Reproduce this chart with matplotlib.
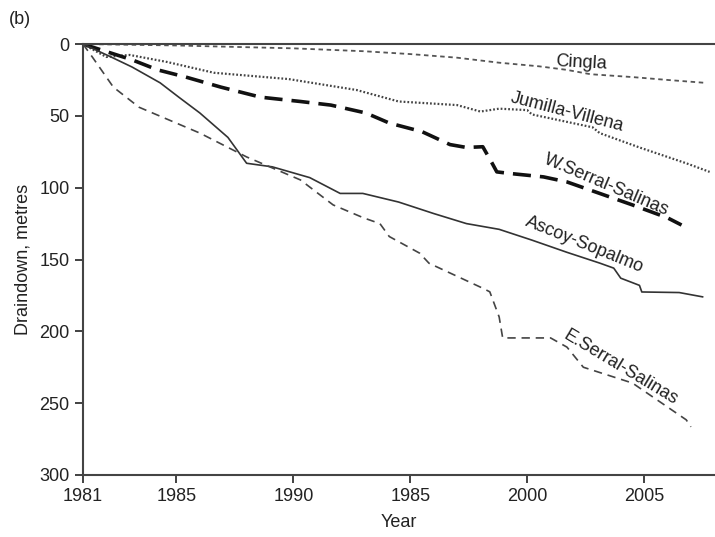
import matplotlib
matplotlib.use("Agg")
import matplotlib.pyplot as plt

plt.rcParams['font.family'] = ['Liberation Sans', 'DejaVu Sans']

# drawdown (metres), by year
cingla_yr = [1981, 1985, 1990, 1993, 1995, 1997, 1998.8, 2000.5, 2001.7, 2002.7, 2004.5, 2006, 2007.6]
cingla_dd = [0, 1, 3, 5, 7, 9.5, 13, 15.5, 18, 21, 23, 25, 27]

jumilla_yr = [1981, 1982, 1983, 1984.6, 1986.6, 1989.8, 1992.7, 1994.5, 1997, 1998,
              1998.8, 2000, 2000.2, 2002.8, 2003.1, 2004.8, 2006.8, 2007.8]
jumilla_dd = [0, 9, 7.6, 12.5, 20, 24.4, 32, 40, 42.5, 47, 45, 46, 49, 58, 62, 72, 83, 89]

wserral_yr = [1981, 1983.1, 1984.2, 1985.4, 1986.9, 1988.6, 1990.3, 1991.6, 1993.1, 1994.1,
              1995.5, 1996.7, 1997.4, 1998.1, 1998.5, 1998.7, 1999.2, 2000.7, 2001.7,
              2003.1, 2004.5, 2006, 2006.6]
wserral_dd = [0, 11, 18, 23, 30, 37, 40, 42.5, 48, 55, 61, 70, 72, 71.5, 83, 89, 90, 92.5,
              96, 104, 112, 121, 126]

ascoy_yr = [1981, 1982.2, 1983.1, 1984.3, 1985.1, 1986, 1987.2, 1988, 1989.1, 1990.7,
            1992, 1992.97, 1994.5, 1996, 1997.4, 1998.8, 2000.2, 2001.7, 2003.1, 2003.7,
            2004, 2004.8, 2004.9, 2006.5, 2007.5]
ascoy_dd = [0, 9, 16, 27, 37, 48, 65, 83, 85.5, 93, 104, 104, 110, 118, 125, 129, 136.5,
            145, 152.5, 156, 163, 168, 172.6, 173, 176]

eserral_yr = [1981, 1981.4, 1982.3, 1983.4, 1986, 1988, 1990.3, 1991.7, 1993, 1993.7,
              1994.1, 1995.4, 1995.8, 1998.1, 1998.4, 1998.8, 1998.95, 2001, 2001.7,
              2002.4, 2004.5, 2006.8, 2007]
eserral_dd = [0, 9, 30, 44, 62, 78.6, 94.6, 112, 121, 125, 134, 145.6, 152.6, 170, 172.5,
              190, 204.6, 204.6, 211, 225, 236, 261.6, 266.5]

tick_years = [1981, 1985, 1990, 1995, 2000, 2005]
tick_labels = ["1981", "1985", "1990", "1985", "2000", "2005"]

fig = plt.figure(figsize=(7.15, 5.37), dpi=100)
ax = fig.add_axes([0.116, 0.1155, 0.883, 0.8025])

ax.plot(cingla_yr, cingla_dd, color='#555555', lw=1.3, dashes=(2.5, 2))
ax.plot(jumilla_yr, jumilla_dd, color='#444444', lw=1.6, dashes=(0.8, 0.9))
ax.plot(wserral_yr, wserral_dd, color='#111111', lw=2.6, dashes=(5, 2.5))
ax.plot(ascoy_yr, ascoy_dd, color='#333333', lw=1.2)
ax.plot(eserral_yr, eserral_dd, color='#444444', lw=1.2, dashes=(5, 3.5))

# curve labels
lbl = dict(fontsize=13, color='#222222', ha='center', va='center')
ax.text(2002.3, 12.8, "Cingla", rotation=-3, **lbl)
ax.text(2001.7, 47.3, "Jumilla-Villena", rotation=-14.5, **lbl)
ax.text(2003.4, 98, "W.Serral-Salinas", rotation=-23, **lbl)
ax.text(2002.45, 140, "Ascoy-Sopalmo", rotation=-22, **lbl)
ax.text(2004, 225, "E.Serral-Salinas", rotation=-31, **lbl)

ax.set_xlim(1981, 2008)
ax.set_ylim(300, 0)
ax.set_xticks(tick_years)
ax.set_xticklabels(tick_labels)
ax.set_yticks(range(0, 301, 50))
ax.tick_params(labelsize=13, length=6, width=1.3, color='#333333', labelcolor='#222222')

for side in ['top', 'left', 'bottom']:
    ax.spines[side].set_color('#444444')
    ax.spines[side].set_linewidth(1.5)
ax.spines['right'].set_visible(False)

ax.set_xlabel("Year", fontsize=13, color='#222222', labelpad=6)
ax.set_ylabel("Draindown, metres", fontsize=13, color='#222222', labelpad=6)
fig.text(0.012, 0.963, "(b)", fontsize=13, color='#222222', va='center')

fig.savefig("out.png", dpi=100)
